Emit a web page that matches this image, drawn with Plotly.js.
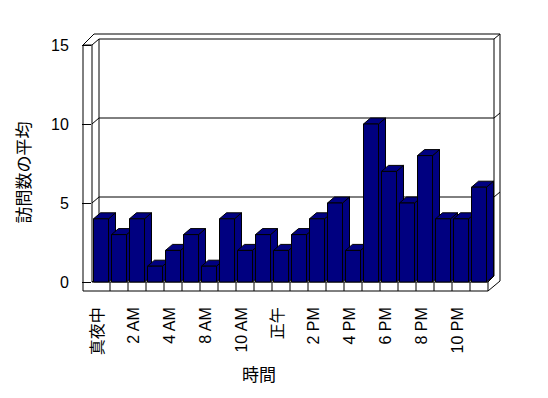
<!DOCTYPE html>
<html><head><meta charset="utf-8">
<script src="https://cdn.plot.ly/plotly-3.0.1.min.js"></script>
<style>html,body{margin:0;padding:0;background:#fff}#chart{width:548px;height:398px}</style>
</head><body><div id="chart"></div>
<script>
// ---- data ----
const hours = ["真夜中","1 AM","2 AM","3 AM","4 AM","5 AM","8 AM","9 AM","10 AM","11 AM","正午","1 PM","2 PM","3 PM","4 PM","5 PM","6 PM","7 PM","8 PM","9 PM","10 PM","11 PM"];
const visits = [4,3,4,1,2,3,1,4,2,3,2,3,4,5,2,10,7,5,8,4,4,6];
const tickIdx = [0,2,4,6,8,10,12,14,16,18,20];
const tickLabels = ["真夜中","2 AM","4 AM","8 AM","10 AM","正午","2 PM","4 PM","6 PM","8 PM","10 PM"];
const yTicks = [0,5,10,15];
const yTitle = "訪問数の平均";
const xTitle = "時間";

// ---- geometry ----
const W = 548, H = 398;
const PL = 92, PR = 500, PT = 45, PB = 300;
const BASE = 282;              // pixel of value 0
const CAT = 18;                // px per category
const YMAX = 15;
const yscale = (BASE - PT) / YMAX;
const ymin = -(PB - BASE) / yscale;
const xr0 = -0.5, xr1 = -0.5 + (PR - PL) / CAT;
const DX = 7, DY = 6;          // depth offset in px
const dxu = DX / CAT, dyu = DY / yscale;
const bw = 15 / CAT;
const NAVY = '#000080';

const idx = hours.map((_, i) => i);

// side & top faces of bars (computed from data in axis units)
const sx = [], sy = [], tx = [], ty = [];
idx.forEach(i => {
  const v = visits[i], xl = i - bw / 2, xr = i + bw / 2;
  sx.push(xr, xr + dxu, xr + dxu, xr, xr, null);
  sy.push(0, dyu, v + dyu, v, 0, null);
  tx.push(xl, xl + dxu, xr + dxu, xr, xl, null);
  ty.push(v, v + dyu, v + dyu, v, v, null);
});

const traces = [
  {type:'scatter', mode:'lines', x:sx, y:sy, fill:'toself', fillcolor:NAVY,
   line:{color:'#000', width:1}, hoverinfo:'skip', showlegend:false, xaxis:'x', yaxis:'y'},
  {type:'scatter', mode:'lines', x:tx, y:ty, fill:'toself', fillcolor:NAVY,
   line:{color:'#000', width:1}, hoverinfo:'skip', showlegend:false, xaxis:'x', yaxis:'y'},
  {type:'bar', x:idx, y:visits, width:bw, marker:{color:NAVY, line:{color:'#000', width:1}},
   showlegend:false, xaxis:'x2', yaxis:'y2'}
];

// pixel -> paper
const fx = p => (p - PL) / (PR - PL);
const fy = p => (PB - p) / (PB - PT);
const LN = {color:'#000', width:1};
const shapes = [];
function L(x0, y0, x1, y1) {
  shapes.push({type:'line', xref:'paper', yref:'paper', x0:fx(x0), y0:fy(y0), x1:fx(x1), y1:fy(y1), line:LN, layer:'below'});
}
const FR = PL + hours.length * CAT; // front right edge of floor
const YT = BASE - YMAX * yscale;   // px of top value
// left wall
L(83, YT, 83, 291);
L(PL, YT, PL, BASE);
L(83, YT, PL, YT);
L(83, YT, 94, 34);
L(PL, YT, PL + DX, YT - DY);
// back wall inner face
L(PL + DX, YT - DY, PL + DX, BASE - DY);
L(PL + DX, YT - DY, FR + DX - 1, YT - DY);
L(FR + DX - 1, YT - DY, FR + DX - 1, BASE - DY);
// back wall top and right edge
L(94, 34, 500, 34);
L(FR + DX - 1, YT - DY, 500, 34);
L(500, 34, 500, 281);
// floor
L(PL, BASE, FR, BASE);
L(PL + DX, BASE - DY, FR + DX - 1, BASE - DY);
L(83, 291, FR, 291);
L(FR, BASE, FR, 291);
L(FR, BASE, FR + DX - 1, BASE - DY);
L(FR, 291, 500, 281);
// floor dividers at category boundaries
for (let k = 0; k < hours.length - 1; k++) {
  shapes.push({type:'line', xref:'x', yref:'paper', x0:k + 0.5, x1:k + 0.5, y0:fy(BASE), y1:fy(291), line:LN, layer:'below'});
}
// gridlines on back wall (value + depth offset)
yTicks.slice(0, 3).forEach(v => {
  shapes.push({type:'line', xref:'paper', yref:'y', x0:fx(PL), y0:v, x1:fx(PL + DX), y1:v + dyu, line:LN, layer:'below'});
  if (v > 0) {
    shapes.push({type:'line', xref:'paper', yref:'y', x0:fx(PL + DX), y0:v + dyu, x1:fx(FR + DX - 1), y1:v + dyu, line:LN, layer:'below'});
    shapes.push({type:'line', xref:'paper', yref:'y', x0:fx(FR + DX - 1), y0:v + dyu, x1:fx(500), y1:v + dyu + 5 / yscale, line:LN, layer:'below'});
  }
});

const FONT = 'Liberation Sans, Arial, Noto Sans CJK JP, sans-serif';
const layout = {
  width: W, height: H,
  margin: {l: PL, r: W - PR, t: PT, b: H - PB, pad: 0},
  paper_bgcolor: '#fff', plot_bgcolor: 'rgba(0,0,0,0)',
  font: {family: FONT, color: '#000', size: 16},
  showlegend: false,
  xaxis: {range: [xr0, xr1], tickvals: tickIdx, ticktext: tickLabels, tickangle: -90,
    showgrid: false, zeroline: false, showline: false, ticks: '', automargin: false,
    ticklabelstandoff: 3, ticklabelshift: -3, tickfont: {size: 16, family: FONT, color: '#000'}},
  yaxis: {range: [ymin, YMAX], tickvals: yTicks, ticks: 'outside', ticklen: 9, tickcolor: '#000', tickwidth: 1,
    showgrid: false, zeroline: false, showline: false, automargin: false, ticklabelstandoff: 10,
    tickfont: {size: 16, family: FONT, color: '#000'},
    title: {text: yTitle, font: {size: 17, family: FONT, color: '#000'}, standoff: 16}},
  xaxis2: {range: [xr0, xr1], overlaying: 'x', anchor: 'y2', visible: false, fixedrange: true},
  yaxis2: {range: [ymin, YMAX], overlaying: 'y', anchor: 'x2', visible: false, fixedrange: true},
  shapes: shapes,
  annotations: [{text: xTitle, xref: 'paper', yref: 'paper', x: fx(259), y: fy(375),
    xanchor: 'center', yanchor: 'middle', showarrow: false, font: {size: 17, family: FONT, color: '#000'}}]
};

Plotly.newPlot('chart', traces, layout, {displayModeBar: false, staticPlot: true});
</script>
</body></html>
